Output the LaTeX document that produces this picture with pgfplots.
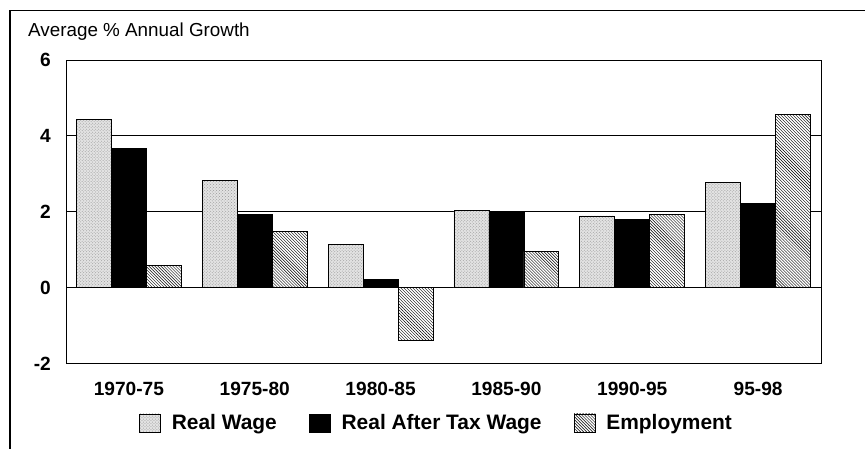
\documentclass[border=0pt]{standalone}
\usepackage{pgfplots}
\pgfplotsset{compat=1.18}
\usetikzlibrary{patterns}
\usepackage{fontspec}
\setmainfont{Liberation Sans}

\begin{document}
\begin{tikzpicture}[x=1bp,y=1bp]
\useasboundingbox (0,0) rectangle (865,449);
\draw[line width=1.6bp] (10,0) -- (10,438.5) -- (865,438.5);
\node[anchor=base west, inner sep=0pt, font=\fontsize{18.9}{18.9}\selectfont] at (28,412) {Average \% Annual Growth};
\begin{axis}[
  at={(66bp,85.5bp)}, anchor=south west,
  scale only axis, width=755bp, height=303.5bp,
  xmin=-0.5, xmax=5.5, ymin=-2, ymax=6,
  axis line style={line width=0.9bp},
  xtick={0,1,2,3,4,5},
  xticklabels={1970-75,1975-80,1980-85,1985-90,1990-95,95-98},
  ytick={-2,0,2,4,6},
  yticklabels={-2,0,2,4,6},
  ymajorgrids,
  grid style={black, line width=0.9bp},
  major tick length=0pt,
  xticklabel style={anchor=north, inner sep=0pt, yshift=-18bp, font=\bfseries\fontsize{19.2}{19.2}\selectfont},
  yticklabel style={anchor=east, inner sep=0pt, xshift=-15bp, font=\bfseries\fontsize{19.2}{19.2}\selectfont},
  legend columns=3,
  legend style={draw=none, fill=none, inner sep=0pt, outer sep=0pt,
    at={(0.0967,-0.196)}, anchor=west,
    font=\bfseries\fontsize{21}{21}\selectfont,
    nodes={inner sep=0pt},
    /tikz/every odd column/.append style={column sep=11bp},
    /tikz/every even column/.append style={column sep=32bp}},
  legend image code/.code={\draw[#1] (0bp,-9bp) rectangle (21bp,9bp);},
]
\addplot[ybar, bar width=0.278, bar shift=-0.278, draw=black, line width=0.8bp,
  fill=gray!22, postaction={pattern=crosshatch dots, pattern color=gray!80}]
  coordinates {(0,4.44) (1,2.82) (2,1.13) (3,2.03) (4,1.89) (5,2.77)};
\addlegendentry{Real Wage}
\addplot[ybar, bar width=0.278, bar shift=0, draw=black, line width=0.8bp, fill=black]
  coordinates {(0,3.67) (1,1.94) (2,0.22) (3,1.98) (4,1.80) (5,2.22)};
\addlegendentry{Real After Tax Wage}
\addplot[ybar, bar width=0.278, bar shift=0.278, draw=black, line width=0.8bp,
  fill=white, postaction={pattern=north west lines}]
  coordinates {(0,0.58) (1,1.49) (2,-1.39) (3,0.95) (4,1.92) (5,4.57)};
\addlegendentry{Employment}
\end{axis}
\end{tikzpicture}
\end{document}
